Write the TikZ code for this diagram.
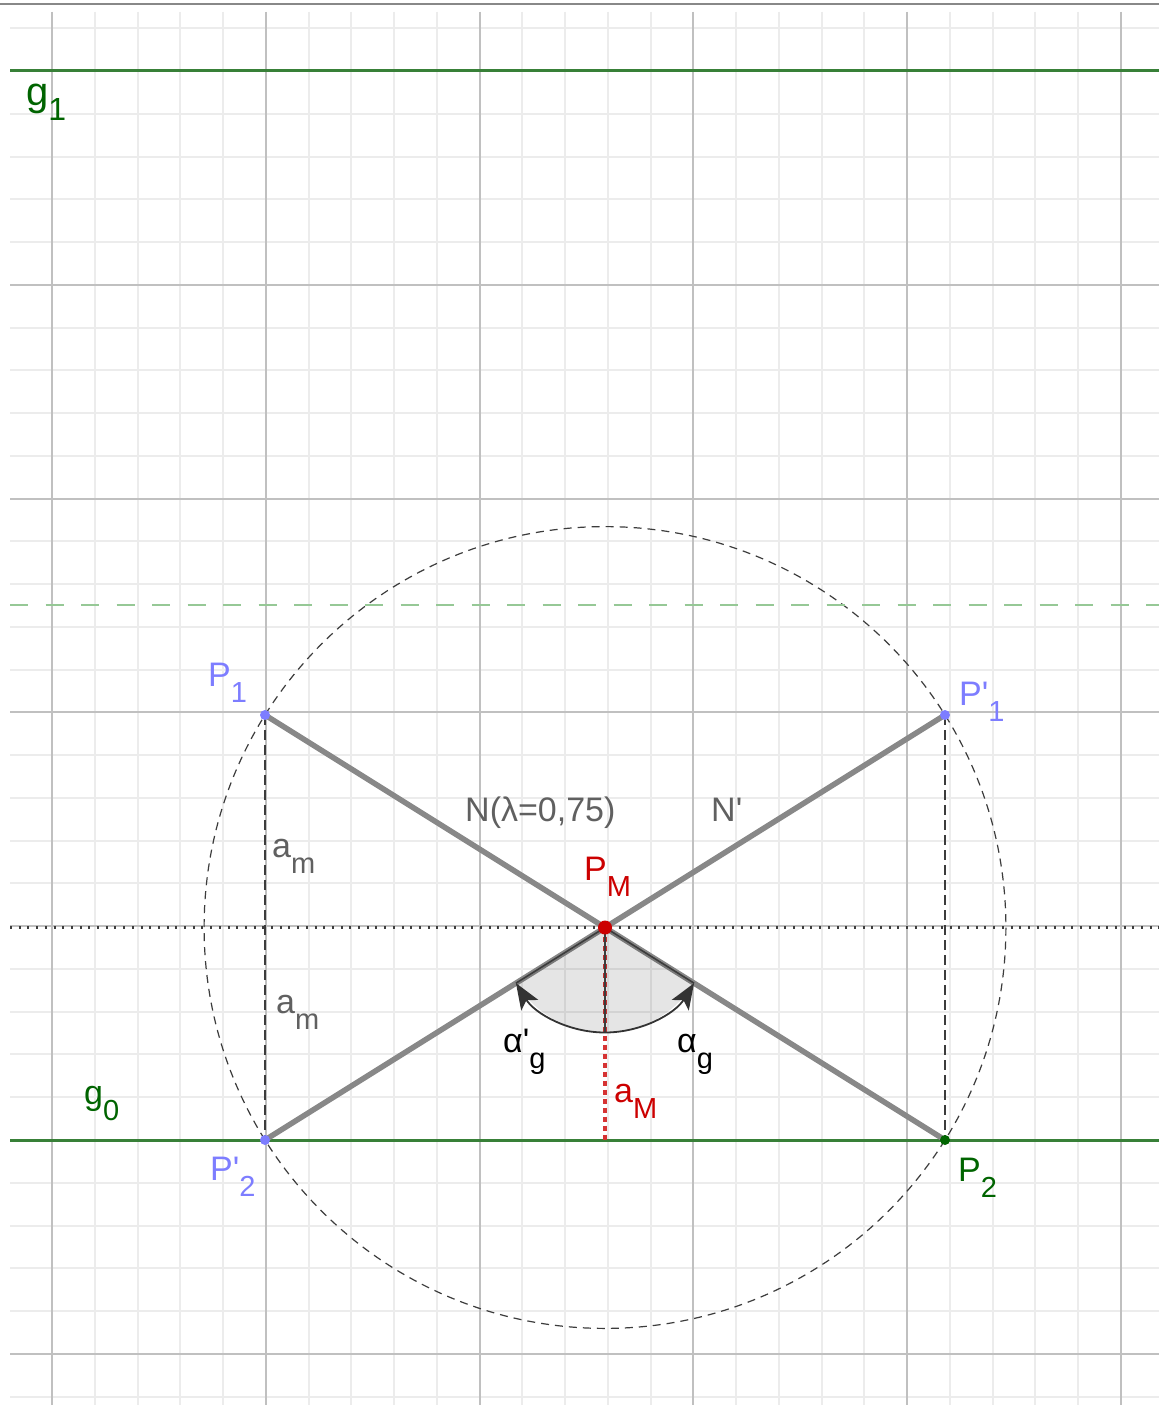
\documentclass[tikz,border=0pt]{standalone}
\usepackage{fontspec}
\setmainfont{Liberation Sans}[Ligatures=TeXOff]
\usetikzlibrary{arrows.meta}
\definecolor{ggblue}{RGB}{125,125,255}
\definecolor{ggdkgreen}{RGB}{0,100,0}
\definecolor{gglinegreen}{RGB}{56,128,56}
\definecolor{ggred}{RGB}{204,0,0}
\definecolor{gglabgray}{RGB}{96,96,96}
\definecolor{ggseg}{RGB}{136,136,136}
\definecolor{ggmajor}{RGB}{192,192,192}
\definecolor{ggminor}{RGB}{236,236,236}
\definecolor{ggdash}{RGB}{60,60,60}
\definecolor{gglightgreen}{RGB}{150,200,150}
\definecolor{ggborder}{RGB}{136,136,136}
\newcommand{\subx}[1]{\raisebox{-16pt}{\fontsize{29}{29}\selectfont #1}}
\newcommand{\subbig}[1]{\raisebox{-15pt}{\fontsize{32}{32}\selectfont #1}}
\begin{document}
\begin{tikzpicture}[x=1pt,y=-1pt,
  lab/.style={anchor=base west,inner sep=0pt,font=\fontsize{34}{37}\selectfont},
  biglab/.style={anchor=base west,inner sep=0pt,font=\fontsize{40}{44}\selectfont},
  minorgrid/.style={draw=ggminor,line width=2pt},
  majorgrid/.style={draw=ggmajor,line width=2pt},
  gline/.style={draw=gglinegreen,line width=3pt},
  circdash/.style={draw=ggdash,line width=1.2pt,dash pattern=on 8pt off 6pt},
  vdash/.style={draw=ggdash,line width=2.8pt,dash pattern=on 10pt off 5pt},
  hdot/.style={draw=ggdash,line width=2.2pt,dash pattern=on 2pt off 6.7pt},
  reddot/.style={draw=ggred!80!white,line width=3.8pt,dash pattern=on 5pt off 4pt},
  seg/.style={draw=ggseg,line width=5.5pt},
  sector/.style={fill=black,fill opacity=0.1},
  sectoredge/.style={draw=ggdash,line width=1.6pt},
  anglearc/.style={draw=black!80,line width=1.8pt,-{Stealth[length=26pt,width=20pt,inset=6pt]}},
  ptdot/.style={circle,inner sep=0pt,minimum size=10pt},
]
\useasboundingbox (0,0) rectangle (1159,1405);
\fill[white] (0,0) rectangle (1159,1405);
% border line
\draw[draw=ggborder,line width=1.5pt] (0,4) -- (1159,4);
% minor grid
\foreach \k in {0,...,25} { \draw[minorgrid] ({52+42.76*\k},12) -- ({52+42.76*\k},1405); }
\foreach \k in {-6,...,26} { \draw[minorgrid] (10,{1140-42.76*\k}) -- (1159,{1140-42.76*\k}); }
% major grid
\foreach \k in {0,...,5} { \draw[majorgrid] ({52+213.8*\k},12) -- ({52+213.8*\k},1405); }
\foreach \k in {-1,...,5} { \draw[majorgrid] (10,{1140-213.8*\k}) -- (1159,{1140-213.8*\k}); }

% key points
\coordinate (P1) at (265,715);
\coordinate (P1p) at (945,715);
\coordinate (P2) at (945,1140);
\coordinate (P2p) at (265,1140);
\coordinate (PM) at (605,927.5);
\coordinate (F) at (605,1140);
\coordinate (L0) at (10,1140);   \coordinate (R0) at (1159,1140);
\coordinate (L1) at (10,71);     \coordinate (R1) at (1159,71);
\coordinate (LD) at (10,605);    \coordinate (RD) at (1159,605);
\coordinate (LH) at (10,927.5);  \coordinate (RH) at (1159,927.5);

% circle
\draw[circdash] (PM) circle[radius=400.9];
% green lines
\draw[gline] (L1) -- (R1);
\draw[gline] (L0) -- (R0);
\draw[draw=gglightgreen,line width=2pt,dash pattern=on 18pt off 17.5pt] (LD) -- (RD);
% dotted horizontal through PM
\draw[hdot] (LH) -- (RH);
% vertical dashed a_m
\draw[vdash] (P1) -- (P2p);
\draw[vdash] (P1p) -- (P2);
% red dotted a_M
\draw[reddot] (PM) -- (F);
% thick segments
\draw[seg] (P1) -- (P2);
\draw[seg] (P1p) -- (P2p);
% angle sectors
\fill[sector] (PM) -- ++(90:105) arc[start angle=90,end angle=32,radius=105] -- cycle;
\fill[sector] (PM) -- ++(90:105) arc[start angle=90,end angle=148,radius=105] -- cycle;
\draw[sectoredge] (PM) -- ++(90:105);
\draw[sectoredge] (PM) -- ++(32:105);
\draw[sectoredge] (PM) -- ++(148:105);
\draw[anglearc] (PM) ++(90:105) arc[start angle=90,end angle=32,radius=105];
\draw[anglearc] (PM) ++(90:105) arc[start angle=90,end angle=148,radius=105];

% points
\node[ptdot,fill=ggblue] (nP1) at (P1) {};
\node[ptdot,fill=ggblue] (nP1p) at (P1p) {};
\node[ptdot,fill=ggblue] (nP2p) at (P2p) {};
\node[ptdot,fill=ggdkgreen] (nP2) at (P2) {};
\node[ptdot,fill=ggred,minimum size=14pt] (nPM) at (PM) {};

% labels
\node[biglab,text=ggdkgreen] (lg1) at (26,105) {g\subbig{1}};
\node[lab,text=ggdkgreen] (lg0) at (84,1104) {g\subx{0}};
\node[lab,text=ggblue] (lP1) at (208,686) {P\subx{1}};
\node[lab,text=ggblue] (lP1p) at (959,705) {P'\subx{1}};
\node[lab,text=ggblue] (lP2p) at (210,1180) {P'\subx{2}};
\node[lab,text=ggdkgreen] (lP2) at (958,1181) {P\subx{2}};
\node[lab,text=ggred] (lPM) at (584,880) {P\subx{M}};
\node[lab,text=gglabgray] (lN) at (465,821) {N(λ=0,75)};
\node[lab,text=gglabgray] (lNp) at (711,821) {N'};
\node[lab,text=gglabgray] (lam1) at (272,857) {a\subx{m}};
\node[lab,text=gglabgray] (lam2) at (276,1013) {a\subx{m}};
\node[lab,text=black] (lalp) at (503,1052) {α'\subx{g}};
\node[lab,text=black] (lal) at (677,1052) {α\subx{g}};
\node[lab,text=ggred] (laM) at (614,1102) {a\subx{M}};
\end{tikzpicture}
\end{document}
